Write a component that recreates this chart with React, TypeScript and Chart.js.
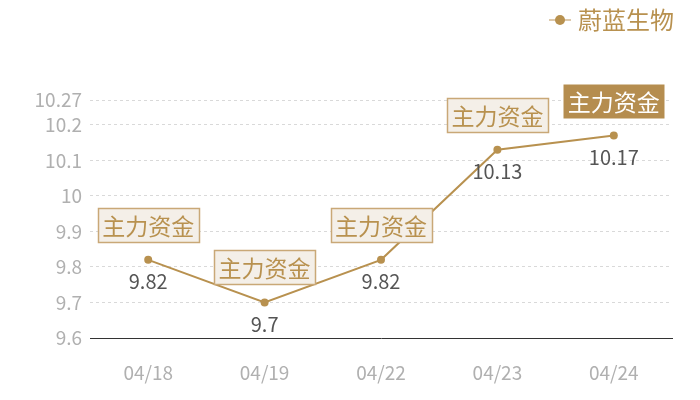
import React, { useEffect, useRef } from "react";
import { Chart, registerables } from "chart.js";

Chart.register(...registerables);

const categories = ["04/18", "04/19", "04/22", "04/23", "04/24"];
const prices = [9.82, 9.7, 9.82, 10.13, 10.17];
const seriesName = "蔚蓝生物";
const yTicks = [9.6, 9.7, 9.8, 9.9, 10, 10.1, 10.2, 10.27];
const tagTexts = ["主力资金", "主力资金", "主力资金", "主力资金", "主力资金"];
const tagHighlight = [false, false, false, false, true];

const GOLD = "#b8914f";
const FONT = "'Noto Sans CJK SC', 'Noto Sans', sans-serif";

const tagPlugin = {
  id: "tagPlugin",
  afterDatasetsDraw(chart: any) {
    const ctx = chart.ctx;
    const meta = chart.getDatasetMeta(0);
    meta.data.forEach((pt: any, i: number) => {
      const { x, y } = pt.getProps(["x", "y"], true);
      ctx.save();
      // value label below point
      ctx.font = `20px ${FONT}`;
      ctx.fillStyle = "#555555";
      ctx.textAlign = "center";
      ctx.textBaseline = "middle";
      ctx.fillText(String(prices[i]), x, y + 22);
      // tag box above point
      const w = 101;
      const h = 34;
      const bx = Math.round(x - w / 2) + 0.5;
      const by = Math.round(y - 35 - h / 2) + 0.5;
      if (tagHighlight[i]) {
        ctx.fillStyle = "#b58d4f";
        ctx.fillRect(bx, by, w, h);
        ctx.fillStyle = "#ffffff";
      } else {
        ctx.fillStyle = "#f4efe8";
        ctx.fillRect(bx, by, w, h);
        ctx.strokeStyle = "#c9a877";
        ctx.lineWidth = 1.5;
        ctx.strokeRect(bx, by, w, h);
        ctx.fillStyle = "#b8914f";
      }
      ctx.font = `23px ${FONT}`;
      ctx.textAlign = "center";
      ctx.textBaseline = "middle";
      ctx.fillText(tagTexts[i], x, by + h / 2 + 1);
      ctx.restore();
    });
  },
};

export default function App() {
  const ref = useRef<HTMLCanvasElement | null>(null);

  useEffect(() => {
    if (!ref.current) return;
    const marker = document.createElement("canvas");
    marker.width = 32;
    marker.height = 12;
    const mctx = marker.getContext("2d")!;
    mctx.strokeStyle = "#d2b78f";
    mctx.lineWidth = 1.5;
    mctx.beginPath();
    mctx.moveTo(10, 6);
    mctx.lineTo(32, 6);
    mctx.stroke();
    mctx.fillStyle = GOLD;
    mctx.beginPath();
    mctx.arc(21, 6, 5, 0, Math.PI * 2);
    mctx.fill();

    const chart = new Chart(ref.current, {
      type: "line",
      data: {
        labels: categories,
        datasets: [
          {
            label: seriesName,
            data: prices,
            borderColor: GOLD,
            backgroundColor: GOLD,
            borderWidth: 2,
            pointRadius: 4,
            pointBackgroundColor: GOLD,
            pointBorderWidth: 0,
            tension: 0,
          },
        ],
      },
      options: {
        animation: false,
        responsive: true,
        maintainAspectRatio: false,
        layout: { padding: { left: 0, right: 18, top: 0, bottom: 0 } },
        plugins: {
          tooltip: { enabled: false },
          legend: {
            position: "top",
            align: "end",
            labels: {
              usePointStyle: true,
              pointStyle: marker as any,
              pointStyleWidth: 22,
              color: GOLD,
              padding: 8,
              font: { family: FONT, size: 24 },
            },
          },
          subtitle: {
            display: true,
            text: "",
            weight: 500,
            padding: { top: 0, bottom: 46 },
            font: { size: 10 },
          } as any,
          title: {
            display: true,
            text: "",
            position: "right",
            fullSize: false,
            padding: 0,
            font: { size: 10, lineHeight: 1 },
          } as any,
        },
        scales: {
          x: {
            offset: true,
            grid: { display: false, drawTicks: false },
            border: { display: true, color: "#333333", width: 1 },
            ticks: {
              color: "#b0b0b0",
              padding: 23,
              font: { family: FONT, size: 19 },
            },
            afterFit(scale: any) {
              scale.height = 62;
            },
          },
          y: {
            min: 9.6,
            max: 10.27,
            grid: { color: "#d9d9d9", drawTicks: false, lineWidth: 1 },
            border: { display: false, dash: [3, 3] },
            ticks: {
              color: "#b0b0b0",
              padding: 8,
              font: { family: FONT, size: 19 },
              callback: (v: any) => String(v),
            },
            afterBuildTicks(scale: any) {
              scale.ticks = yTicks.map((value) => ({ value }));
            },
            afterFit(scale: any) {
              scale.width = 90;
            },
          },
        },
      },
      plugins: [tagPlugin],
    });
    return () => chart.destroy();
  }, []);

  return (
    <div style={{ position: "absolute", left: 0, top: 0, width: 700, height: 400 }}>
      <canvas ref={ref} />
    </div>
  );
}
